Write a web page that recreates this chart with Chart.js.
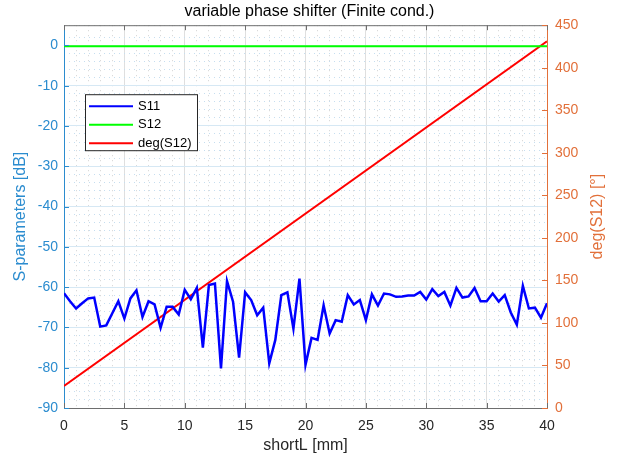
<!DOCTYPE html>
<html>
<head>
<meta charset="utf-8">
<script src="https://cdn.jsdelivr.net/npm/chart.js@4.4.0/dist/chart.umd.min.js"></script>
<style>
  html, body { margin: 0; padding: 0; background: #fff; }
  #wrap { width: 619px; height: 459px; }
</style>
</head>
<body>
<div id="wrap"><canvas id="chart"></canvas></div>
<script>
// shortL sweep [mm]
const shortL = [
  0, 0.5, 1, 1.5, 2, 2.5, 3, 3.5, 4, 4.5, 5, 5.5, 6, 6.5, 7, 7.5, 8, 8.5, 9, 9.5,
  10, 10.5, 11, 11.5, 12, 12.5, 13, 13.5, 14, 14.5, 15, 15.5, 16, 16.5, 17, 17.5, 18, 18.5, 19, 19.5,
  20, 20.5, 21, 21.5, 22, 22.5, 23, 23.5, 24, 24.5, 25, 25.5, 26, 26.5, 27, 27.5, 28, 28.5, 29, 29.5,
  30, 30.5, 31, 31.5, 32, 32.5, 33, 33.5, 34, 34.5, 35, 35.5, 36, 36.5, 37, 37.5, 38, 38.5, 39, 39.5, 40
];

// S11 [dB]
const s11 = [
  -61.5, -63.5, -65.3, -64.0, -62.8, -62.6, -69.8, -69.5, -66.5, -63.5,
  -67.8, -62.8, -60.8, -67.4, -63.5, -64.3, -70.1, -64.9, -64.9, -66.8,
  -60.7, -63.0, -60.2, -75.0, -59.5, -59.1, -80.2, -58.5, -63.6, -77.5,
  -61.3, -63.2, -67.0, -65.1, -78.9, -73.1, -62.0, -61.3, -70.3, -57.9,
  -79.3, -72.6, -73.1, -64.5, -71.5, -68.2, -68.6, -62.0, -64.3, -63.2,
  -68.2, -61.8, -64.6, -61.6, -61.8, -62.4, -62.3, -62.1, -62.1, -61.2,
  -63.1, -60.5, -62.2, -61.2, -64.6, -60.2, -62.6, -62.3, -60.2, -63.5,
  -63.5, -61.6, -63.6, -62.0, -66.3, -69.3, -59.7, -65.3, -65.1, -67.6,
  -64.0
];

// S12 [dB] (flat, near 0)
const s12X = [0, 40];
const s12 = [-0.2, -0.2];

// phase of S12 [deg]
const phaseX = [0, 40];
const phaseDeg = [26, 431];

const leftColor = '#2b8ccf';
const rightColor = '#e2703a';
const FONT = 'Liberation Sans, Arial, Helvetica, sans-serif';

function pts(xs, ys) {
  return xs.map((x, i) => ({ x: x, y: ys[i] }));
}

// frame, inner ticks, right label and legend box like matlab
const decorPlugin = {
  id: 'decor',
  afterDatasetsDraw(chart) {
    const { ctx, chartArea: a, scales } = chart;
    ctx.save();
    // top border
    ctx.strokeStyle = '#6e6e6e';
    ctx.lineWidth = 1;
    ctx.beginPath();
    ctx.moveTo(a.left, a.top + 0.5);
    ctx.lineTo(a.right, a.top + 0.5);
    ctx.stroke();

    // inward tick marks
    const tl = 5;
    ctx.beginPath();
    scales.x.ticks.forEach(t => {
      const px = Math.round(scales.x.getPixelForValue(t.value)) + 0.5;
      ctx.moveTo(px, a.bottom); ctx.lineTo(px, a.bottom - tl);
      ctx.moveTo(px, a.top); ctx.lineTo(px, a.top + tl);
    });
    ctx.stroke();
    ctx.strokeStyle = leftColor;
    ctx.beginPath();
    scales.y.ticks.forEach(t => {
      const py = Math.round(scales.y.getPixelForValue(t.value)) + 0.5;
      ctx.moveTo(a.left, py); ctx.lineTo(a.left + tl, py);
    });
    ctx.stroke();
    ctx.strokeStyle = rightColor;
    ctx.beginPath();
    scales.y2.ticks.forEach(t => {
      const py = Math.round(scales.y2.getPixelForValue(t.value)) + 0.5;
      ctx.moveTo(a.right, py); ctx.lineTo(a.right - tl, py);
    });
    ctx.stroke();

    // right axis label, reads bottom to top
    ctx.fillStyle = rightColor;
    ctx.font = '16px ' + FONT;
    ctx.textAlign = 'center';
    ctx.textBaseline = 'middle';
    ctx.translate(598, (a.top + a.bottom) / 2);
    ctx.rotate(-Math.PI / 2);
    ctx.fillText('deg(S12) [°]', 0, 0);
    ctx.setTransform(1, 0, 0, 1, 0, 0);

    // legend
    const bx = a.left + 21, by = a.top + 69, bw = 112, bh = 56;
    ctx.fillStyle = '#fff';
    ctx.fillRect(bx, by, bw, bh);
    ctx.strokeStyle = '#262626';
    ctx.strokeRect(bx + 0.5, by + 0.5, bw, bh);
    ctx.font = '13px ' + FONT;
    ctx.textAlign = 'left';
    chart.data.datasets.forEach((ds, i) => {
      const ry = by + 12 + i * 18.5;
      ctx.strokeStyle = ds.borderColor;
      ctx.lineWidth = 2;
      ctx.beginPath();
      ctx.moveTo(bx + 4, ry);
      ctx.lineTo(bx + 48, ry);
      ctx.stroke();
      ctx.fillStyle = '#000';
      ctx.fillText(ds.label, bx + 53, ry);
    });
    ctx.restore();
  }
};

new Chart(document.getElementById('chart'), {
  type: 'line',
  data: {
    datasets: [
      { label: 'S11', data: pts(shortL, s11), borderColor: '#0000ff', borderWidth: 2.5, yAxisID: 'y' },
      { label: 'S12', data: pts(s12X, s12), borderColor: '#00ff00', borderWidth: 2, yAxisID: 'y' },
      { label: 'deg(S12)', data: pts(phaseX, phaseDeg), borderColor: '#ff0000', borderWidth: 2, yAxisID: 'y2' }
    ]
  },
  options: {
    responsive: true,
    maintainAspectRatio: false,
    animation: false,
    events: [],
    elements: { point: { radius: 0 }, line: { tension: 0 } },
    layout: { padding: 0 },
    plugins: {
      legend: { display: false },
      tooltip: { enabled: false },
      title: {
        display: true,
        text: 'variable phase shifter (Finite cond.)',
        color: '#000',
        font: { family: FONT, size: 16, weight: 'normal' },
        padding: { top: 2, bottom: 4 }
      }
    },
    scales: {
      x: {
        type: 'linear', min: 0, max: 40,
        ticks: { stepSize: 5, color: '#262626', font: { family: FONT, size: 14 }, padding: 10, maxRotation: 0 },
        grid: { color: '#dfdfdf', drawTicks: false },
        border: { color: '#6e6e6e' },
        title: { display: true, text: 'shortL [mm]', color: '#262626', font: { family: FONT, size: 16 }, padding: { top: 0, bottom: 4 } },
        afterFit: s => { s.height = 51; }
      },
      xMinor: {
        type: 'linear', position: 'bottom', min: 0, max: 40,
        ticks: { stepSize: 1, display: false },
        grid: { color: c => (c.tick && c.tick.value % 5 === 0) ? 'rgba(0,0,0,0)' : '#d2d2d2', drawTicks: false },
        border: { display: false, dash: [1, 4] },
        afterFit: s => { s.height = 0; }
      },
      y: {
        type: 'linear', position: 'left', min: -90, max: 5,
        ticks: { stepSize: 10, color: leftColor, font: { family: FONT, size: 14 }, padding: 6 },
        afterBuildTicks: s => { s.ticks = s.ticks.filter(t => t.value <= 0); },
        grid: { color: '#d6e8f4', drawTicks: false },
        border: { color: leftColor },
        title: { display: true, text: 'S-parameters [dB]', color: leftColor, font: { family: FONT, size: 16 }, padding: { top: 11, bottom: 0 } },
        afterFit: s => { s.width = 64; }
      },
      yMinor: {
        type: 'linear', position: 'left', min: -90, max: 5,
        ticks: { stepSize: 2, display: false },
        grid: { color: c => (c.tick && c.tick.value % 10 === 0) ? 'rgba(0,0,0,0)' : '#c6def0', drawTicks: false },
        border: { display: false, dash: [1, 4] },
        afterFit: s => { s.width = 0; }
      },
      y2: {
        type: 'linear', position: 'right', min: 0, max: 450,
        ticks: { stepSize: 50, color: rightColor, font: { family: FONT, size: 14 }, padding: 8 },
        grid: { drawOnChartArea: false, drawTicks: false },
        border: { color: rightColor },
        afterFit: s => { s.width = 72; }
      }
    }
  },
  plugins: [decorPlugin]
});
</script>
</body>
</html>
